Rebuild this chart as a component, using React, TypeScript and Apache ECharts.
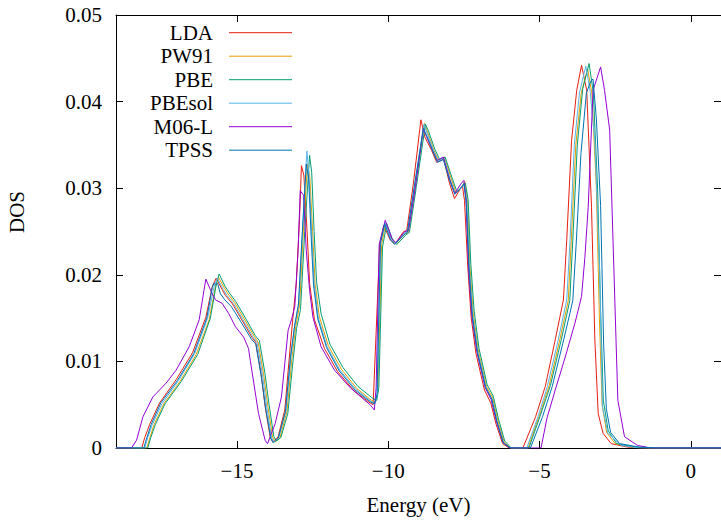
import React, { useEffect, useRef } from "react";
import * as echarts from "echarts";

const seriesNames = ["LDA", "PW91", "PBE", "PBEsol", "M06-L", "TPSS"];
const seriesColors = ["#e51e10", "#e69f00", "#009e73", "#56b4e9", "#9400d3", "#0072b2"];
const energyTicks = [-15, -10, -5, 0];

const ldaData = [
  [-19, 0], [-18.15, 0], [-18.05, 0.0012], [-17.89, 0.0027], [-17.56, 0.0052], [-17.01, 0.0079],
  [-16.47, 0.011], [-16.03, 0.0151], [-15.82, 0.0186], [-15.69, 0.0196], [-15.49, 0.0183],
  [-15.38, 0.0176], [-15.16, 0.0167], [-14.84, 0.0148], [-14.51, 0.0128], [-14.38, 0.0122],
  [-14.2, 0.0085], [-14.07, 0.0048], [-13.9, 0.0012], [-13.82, 0.0007], [-13.64, 0.0013],
  [-13.42, 0.0044], [-13.25, 0.0113], [-13.15, 0.0151], [-13.04, 0.019], [-12.93, 0.0267],
  [-12.87, 0.0326], [-12.79, 0.0315], [-12.68, 0.0248], [-12.6, 0.019], [-12.44, 0.0148],
  [-12.11, 0.0115], [-11.67, 0.0088], [-11.13, 0.0066], [-10.6, 0.0052], [-10.5, 0.005],
  [-10.28, 0.0236], [-10.15, 0.0257], [-9.93, 0.024], [-9.77, 0.0236], [-9.49, 0.025],
  [-9.39, 0.0251], [-9.17, 0.0305], [-8.92, 0.0379], [-8.79, 0.0359], [-8.57, 0.0344],
  [-8.4, 0.033], [-8.24, 0.0332], [-8.17, 0.0334], [-7.97, 0.0305], [-7.81, 0.0288],
  [-7.64, 0.0298], [-7.55, 0.0303], [-7.48, 0.0286], [-7.37, 0.0209], [-7.26, 0.0151],
  [-7.1, 0.0109], [-6.82, 0.0067], [-6.61, 0.0052], [-6.44, 0.0028], [-6.22, 0.0005],
  [-6.0, 0], [-5.55, 0], [-5.13, 0.0036], [-4.81, 0.0071], [-4.48, 0.0125], [-4.21, 0.0171],
  [-4.1, 0.024], [-3.94, 0.0355], [-3.77, 0.0413], [-3.61, 0.0442], [-3.44, 0.0413],
  [-3.28, 0.0278], [-3.17, 0.0125], [-3.06, 0.004], [-2.9, 0.0017], [-2.63, 0.0005],
  [-2.08, 0.0001], [-1.5, 0], [1, 0],
];

const pw91Data = [
  [-19, 0], [-17.98, 0], [-17.88, 0.0012], [-17.74, 0.0027], [-17.42, 0.0051], [-16.88, 0.0077],
  [-16.35, 0.0108], [-15.92, 0.0148], [-15.72, 0.0185], [-15.61, 0.0197], [-15.42, 0.0185],
  [-15.3, 0.0178], [-15.08, 0.0168], [-14.76, 0.0149], [-14.43, 0.0129], [-14.3, 0.0122],
  [-14.12, 0.0085], [-13.98, 0.0048], [-13.82, 0.0012], [-13.74, 0.0007], [-13.58, 0.0012],
  [-13.35, 0.0042], [-13.18, 0.0105], [-13.06, 0.014], [-12.93, 0.0165], [-12.8, 0.0255],
  [-12.67, 0.0328], [-12.59, 0.0312], [-12.5, 0.025], [-12.42, 0.019], [-12.28, 0.0152],
  [-11.98, 0.0118], [-11.55, 0.0091], [-11.05, 0.0069], [-10.55, 0.0055], [-10.42, 0.0053],
  [-10.34, 0.0065], [-10.22, 0.0235], [-10.08, 0.026], [-9.88, 0.0241], [-9.75, 0.0236],
  [-9.45, 0.0247], [-9.33, 0.0249], [-9.1, 0.0303], [-8.8, 0.0375], [-8.68, 0.0363],
  [-8.48, 0.0343], [-8.33, 0.0332], [-8.14, 0.0336], [-7.93, 0.0312], [-7.76, 0.0295],
  [-7.58, 0.0301], [-7.47, 0.0308], [-7.38, 0.0285], [-7.3, 0.021], [-7.19, 0.0155],
  [-7.02, 0.0112], [-6.75, 0.0071], [-6.55, 0.0058], [-6.38, 0.0032], [-6.17, 0.0007],
  [-5.95, 0], [-5.38, 0], [-5.0, 0.0038], [-4.68, 0.0072], [-4.33, 0.0125], [-4.05, 0.017],
  [-3.95, 0.024], [-3.8, 0.035], [-3.62, 0.041], [-3.41, 0.0438], [-3.27, 0.041],
  [-3.12, 0.03], [-3.02, 0.015], [-2.93, 0.005], [-2.78, 0.0018], [-2.5, 0.0005],
  [-1.9, 0.0001], [-1.3, 0], [1, 0],
];

const pbeData = [
  [-19, 0], [-17.95, 0], [-17.85, 0.0012], [-17.7, 0.0027], [-17.38, 0.0051], [-16.84, 0.0077],
  [-16.3, 0.0108], [-15.88, 0.015], [-15.68, 0.019], [-15.59, 0.0201], [-15.4, 0.0187],
  [-15.27, 0.018], [-15.04, 0.0169], [-14.72, 0.015], [-14.4, 0.013], [-14.26, 0.0124],
  [-14.08, 0.0087], [-13.94, 0.005], [-13.78, 0.0013], [-13.7, 0.0008], [-13.55, 0.0012],
  [-13.32, 0.004], [-13.15, 0.01], [-13.03, 0.0138], [-12.9, 0.016], [-12.76, 0.025],
  [-12.6, 0.0338], [-12.53, 0.0318], [-12.45, 0.025], [-12.37, 0.0192], [-12.22, 0.0155],
  [-11.93, 0.012], [-11.5, 0.0093], [-11.0, 0.0071], [-10.5, 0.0057], [-10.38, 0.0055],
  [-10.31, 0.007], [-10.19, 0.0232], [-10.05, 0.0259], [-9.85, 0.024], [-9.72, 0.0235],
  [-9.42, 0.0246], [-9.3, 0.0249], [-9.07, 0.0302], [-8.77, 0.0374], [-8.66, 0.0365],
  [-8.46, 0.0345], [-8.3, 0.0333], [-8.12, 0.0336], [-7.9, 0.0313], [-7.73, 0.0296],
  [-7.55, 0.0302], [-7.45, 0.0306], [-7.36, 0.0287], [-7.27, 0.0212], [-7.16, 0.0158],
  [-7.0, 0.0115], [-6.73, 0.0073], [-6.53, 0.006], [-6.36, 0.0034], [-6.15, 0.0008],
  [-5.93, 0], [-5.35, 0], [-4.97, 0.0038], [-4.64, 0.0072], [-4.28, 0.0125], [-4.0, 0.017],
  [-3.9, 0.024], [-3.75, 0.035], [-3.57, 0.0415], [-3.36, 0.0444], [-3.22, 0.041],
  [-3.08, 0.03], [-2.98, 0.016], [-2.89, 0.0055], [-2.73, 0.002], [-2.45, 0.0005],
  [-1.8, 0.0001], [-1.2, 0], [1, 0],
];

const pbesolData = [
  [-19, 0], [-18.05, 0], [-17.95, 0.0012], [-17.8, 0.0027], [-17.48, 0.0051], [-16.93, 0.0078],
  [-16.4, 0.0109], [-15.97, 0.015], [-15.76, 0.0186], [-15.65, 0.0196], [-15.45, 0.0183],
  [-15.33, 0.0176], [-15.12, 0.0167], [-14.8, 0.0148], [-14.47, 0.0128], [-14.34, 0.0122],
  [-14.16, 0.0085], [-14.02, 0.0048], [-13.86, 0.0012], [-13.78, 0.0007], [-13.62, 0.0012],
  [-13.38, 0.0043], [-13.21, 0.0107], [-13.09, 0.0142], [-12.96, 0.0168], [-12.82, 0.026],
  [-12.69, 0.0343], [-12.62, 0.0315], [-12.53, 0.025], [-12.45, 0.019], [-12.31, 0.015],
  [-12.02, 0.0117], [-11.6, 0.009], [-11.08, 0.0068], [-10.57, 0.0054], [-10.44, 0.0052],
  [-10.36, 0.0063], [-10.25, 0.0238], [-10.1, 0.026], [-9.9, 0.0241], [-9.77, 0.0236],
  [-9.47, 0.0248], [-9.35, 0.025], [-9.12, 0.0304], [-8.82, 0.0374], [-8.7, 0.0362],
  [-8.5, 0.0343], [-8.35, 0.0331], [-8.16, 0.0335], [-7.95, 0.031], [-7.78, 0.0294],
  [-7.6, 0.03], [-7.49, 0.0306], [-7.4, 0.0284], [-7.32, 0.0208], [-7.21, 0.0153],
  [-7.04, 0.0111], [-6.77, 0.007], [-6.57, 0.0056], [-6.4, 0.003], [-6.19, 0.0006],
  [-5.96, 0], [-5.42, 0], [-5.05, 0.0036], [-4.74, 0.0071], [-4.38, 0.0125], [-4.1, 0.0171],
  [-3.99, 0.024], [-3.85, 0.035], [-3.68, 0.041], [-3.47, 0.0441], [-3.33, 0.0413],
  [-3.17, 0.0355], [-3.01, 0.0202], [-2.92, 0.0048], [-2.74, 0.0017], [-2.3, 0.0003],
  [-1.7, 0], [1, 0],
];

const m06lData = [
  [-19, 0], [-18.49, 0], [-18.32, 0.0009], [-18.11, 0.0036], [-17.78, 0.0059], [-17.34, 0.0075],
  [-17.01, 0.009], [-16.58, 0.0117], [-16.25, 0.0148], [-16.03, 0.0195], [-15.82, 0.0178],
  [-15.71, 0.0171], [-15.49, 0.0167], [-15.27, 0.0155], [-15.05, 0.014], [-14.78, 0.0128],
  [-14.62, 0.0115], [-14.56, 0.0101], [-14.29, 0.004], [-14.07, 0.0009], [-13.99, 0.0005],
  [-13.74, 0.0028], [-13.53, 0.0059], [-13.31, 0.0136], [-13.2, 0.0148], [-13.09, 0.0163],
  [-12.98, 0.0228], [-12.91, 0.0297], [-12.8, 0.0292], [-12.71, 0.0228], [-12.6, 0.0182],
  [-12.49, 0.0151], [-12.22, 0.0117], [-11.78, 0.009], [-11.24, 0.0069], [-10.6, 0.005],
  [-10.46, 0.0044], [-10.4, 0.007], [-10.3, 0.0235], [-10.1, 0.0263], [-9.88, 0.0242],
  [-9.75, 0.0237], [-9.45, 0.025], [-9.33, 0.0251], [-9.1, 0.0302], [-8.84, 0.0369],
  [-8.74, 0.036], [-8.53, 0.0343], [-8.38, 0.0332], [-8.18, 0.0336], [-7.97, 0.031],
  [-7.8, 0.0294], [-7.6, 0.0305], [-7.5, 0.0309], [-7.43, 0.0288], [-7.35, 0.021],
  [-7.24, 0.0153], [-7.07, 0.0111], [-6.8, 0.007], [-6.6, 0.0056], [-6.42, 0.003],
  [-6.2, 0.0006], [-5.97, 0], [-4.95, 0], [-4.75, 0.0035], [-4.48, 0.0067], [-4.15, 0.0105],
  [-3.83, 0.0144], [-3.61, 0.0175], [-3.5, 0.022], [-3.39, 0.0278], [-3.23, 0.0413],
  [-2.98, 0.044], [-2.85, 0.0413], [-2.68, 0.0367], [-2.57, 0.024], [-2.41, 0.0055],
  [-2.19, 0.0013], [-1.76, 0.0003], [-1.32, 0], [1, 0],
];

const tpssData = [
  [-19, 0], [-18.08, 0], [-17.98, 0.0012], [-17.84, 0.0027], [-17.52, 0.0052], [-16.97, 0.0078],
  [-16.43, 0.0109], [-16.0, 0.015], [-15.82, 0.0185], [-15.77, 0.019], [-15.7, 0.0189],
  [-15.64, 0.019], [-15.55, 0.0178], [-15.4, 0.0171], [-15.18, 0.0163], [-14.86, 0.0145],
  [-14.53, 0.0126], [-14.38, 0.012], [-14.2, 0.0083], [-14.05, 0.0045], [-13.88, 0.0011],
  [-13.8, 0.0006], [-13.64, 0.0011], [-13.4, 0.0042], [-13.23, 0.0106], [-13.1, 0.014],
  [-12.97, 0.0165], [-12.84, 0.025], [-12.71, 0.0328], [-12.63, 0.031], [-12.55, 0.0245],
  [-12.47, 0.0188], [-12.33, 0.0149], [-12.04, 0.0116], [-11.62, 0.0089], [-11.1, 0.0067],
  [-10.58, 0.0053], [-10.45, 0.0051], [-10.37, 0.0062], [-10.26, 0.0236], [-10.12, 0.0259],
  [-9.92, 0.024], [-9.79, 0.0235], [-9.49, 0.0246], [-9.37, 0.0249], [-9.14, 0.0302],
  [-8.84, 0.0369], [-8.72, 0.036], [-8.52, 0.0342], [-8.37, 0.033], [-8.18, 0.0333],
  [-7.97, 0.0309], [-7.8, 0.0293], [-7.62, 0.0299], [-7.5, 0.0305], [-7.42, 0.0283],
  [-7.33, 0.0207], [-7.22, 0.0152], [-7.05, 0.011], [-6.78, 0.007], [-6.58, 0.0057],
  [-6.41, 0.0031], [-6.2, 0.0006], [-5.96, 0], [-5.3, 0], [-4.9, 0.0036], [-4.58, 0.0071],
  [-4.2, 0.0125], [-3.9, 0.017], [-3.78, 0.024], [-3.63, 0.034], [-3.45, 0.041],
  [-3.3, 0.0424], [-3.23, 0.0426], [-3.12, 0.038], [-2.98, 0.028], [-2.88, 0.012],
  [-2.79, 0.0045], [-2.65, 0.0018], [-2.35, 0.0005], [-1.7, 0.0001], [-1.1, 0], [1, 0],
];

const seriesData = [ldaData, pw91Data, pbeData, pbesolData, m06lData, tpssData];

const FONT = "Times New Roman, Liberation Serif, DejaVu Serif, serif";

export default function App() {
  const ref = useRef<HTMLDivElement>(null);

  useEffect(() => {
    document.body.style.margin = "0";
    if (!ref.current) return;
    const chart = echarts.init(ref.current, null, { renderer: "svg" });

    const fmtX = (v: number) => (v < 0 ? "\u2212" + Math.abs(v) : String(v));
    const fmtY = (v: number) => (v === 0 ? "0" : v.toFixed(2));

    const axisLine = { show: true, onZero: false, lineStyle: { color: "#000", width: 1 } };

    const legendGraphics: any[] = [];
    seriesNames.forEach((name, i) => {
      const y = 32.7 + i * 23.5;
      legendGraphics.push({
        type: "text",
        x: 213,
        y,
        style: {
          text: name,
          fill: "#000",
          fontFamily: FONT,
          fontSize: 21,
          align: "right",
          verticalAlign: "middle",
        },
      });
      legendGraphics.push({
        type: "line",
        shape: { x1: 229, y1: y, x2: 292, y2: y },
        style: { stroke: seriesColors[i], lineWidth: 1 },
      });
    });

    chart.setOption({
      animation: false,
      backgroundColor: "#fff",
      textStyle: { fontFamily: FONT },
      grid: { left: 116, top: 15, right: -7, bottom: 74, containLabel: false },
      xAxis: [
        {
          type: "value",
          position: "bottom",
          min: -19,
          max: 1,
          name: "Energy (eV)",
          nameLocation: "middle",
          nameGap: 46,
          nameTextStyle: { fontFamily: FONT, fontSize: 21, color: "#000" },
          axisLine,
          axisTick: { show: true, inside: true, length: 7, customValues: energyTicks, lineStyle: { color: "#000" } },
          axisLabel: {
            show: true,
            customValues: energyTicks,
            formatter: fmtX,
            fontFamily: FONT,
            fontSize: 21,
            color: "#000",
            margin: 12,
          },
          splitLine: { show: false },
        },
        {
          type: "value",
          position: "top",
          min: -19,
          max: 1,
          axisLine,
          axisTick: { show: true, inside: true, length: 7, customValues: energyTicks, lineStyle: { color: "#000" } },
          axisLabel: { show: false },
          splitLine: { show: false },
        },
      ],
      yAxis: [
        {
          type: "value",
          position: "left",
          min: 0,
          max: 0.05,
          interval: 0.01,
          axisLine,
          axisTick: { show: true, inside: true, length: 7, lineStyle: { color: "#000" } },
          axisLabel: {
            formatter: fmtY,
            fontFamily: FONT,
            fontSize: 21,
            color: "#000",
            margin: 14,
          },
          splitLine: { show: false },
        },
        {
          type: "value",
          position: "right",
          min: 0,
          max: 0.05,
          interval: 0.01,
          axisLine,
          axisTick: { show: true, inside: true, length: 7, lineStyle: { color: "#000" } },
          axisLabel: { show: false },
          splitLine: { show: false },
        },
      ],
      graphic: [
        {
          type: "text",
          x: 17,
          y: 212,
          rotation: Math.PI / 2,
          style: {
            text: "DOS",
            fill: "#000",
            fontFamily: FONT,
            fontSize: 21,
            align: "center",
            verticalAlign: "middle",
          },
        },
        ...legendGraphics,
      ],
      series: seriesNames.map((name, i) => ({
        name,
        type: "line",
        xAxisIndex: 0,
        yAxisIndex: 0,
        data: seriesData[i],
        symbol: "none",
        showSymbol: false,
        smooth: false,
        clip: true,
        lineStyle: { color: seriesColors[i], width: 1 },
        itemStyle: { color: seriesColors[i] },
        z: 2 + i,
      })),
    });

    return () => chart.dispose();
  }, []);

  return <div ref={ref} style={{ width: 721, height: 522 }} />;
}
